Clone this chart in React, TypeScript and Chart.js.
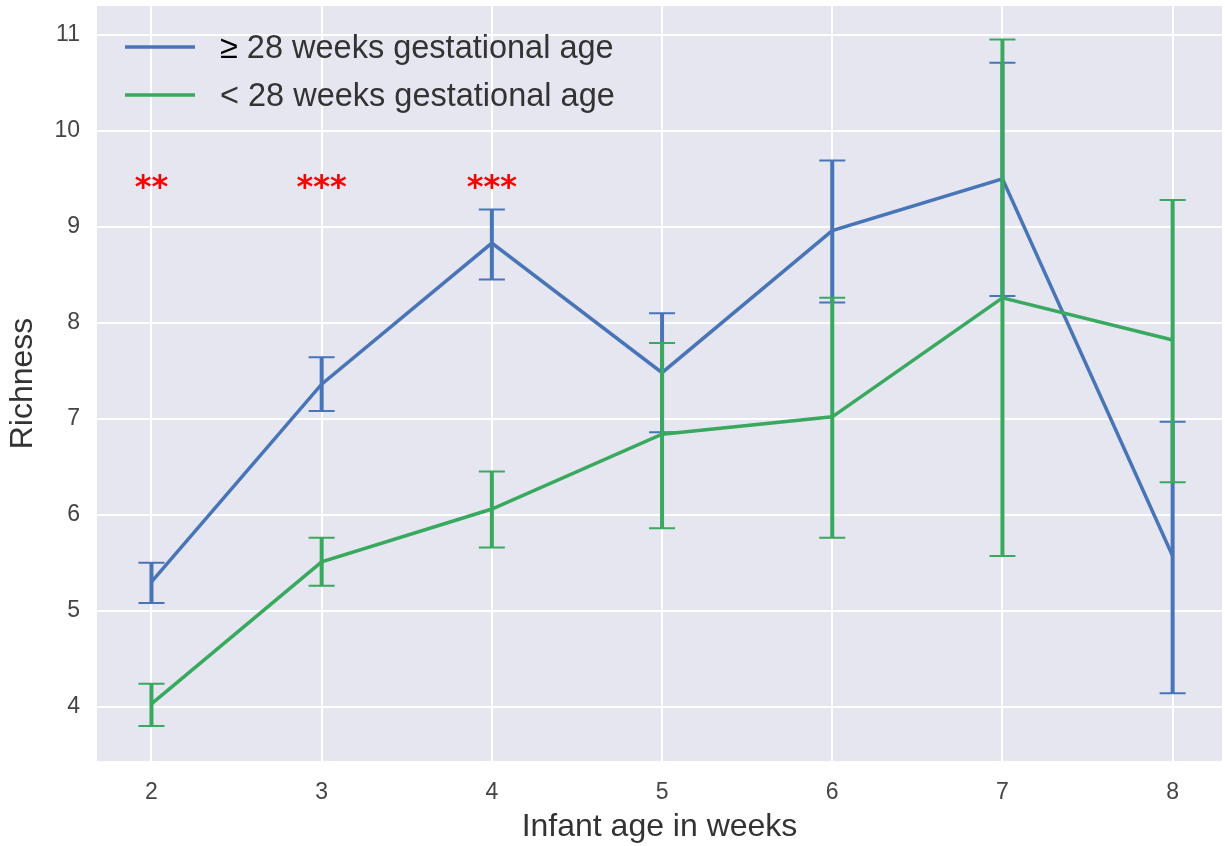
import React, { useEffect, useRef } from 'react';
import { Chart, registerables } from 'chart.js';
Chart.register(...registerables);

const weeks = [2, 3, 4, 5, 6, 7, 8];
const blueMean = [5.3, 7.36, 8.83, 7.48, 8.96, 9.5, 5.57];
const blueLow = [5.08, 7.08, 8.45, 6.86, 8.21, 8.28, 4.14];
const blueHigh = [5.5, 7.64, 9.18, 8.1, 9.69, 10.71, 6.97];
const greenMean = [4.03, 5.51, 6.06, 6.84, 7.02, 8.26, 7.82];
const greenLow = [3.8, 5.26, 5.66, 5.86, 5.76, 5.57, 6.34];
const greenHigh = [4.24, 5.76, 6.45, 7.79, 8.26, 10.95, 9.28];
const seriesLabels = ['≥', '28 weeks gestational age', '< 28 weeks gestational age'];
const starWeeks = [2, 3, 4];
const starTexts = ['**', '***', '***'];
const starLevel = 9.42;
const yTicks = [4, 5, 6, 7, 8, 9, 10, 11];

const BLUE = '#4874B8';
const GREEN = '#38A95E';
const FONT = '"Liberation Sans", Arial';

export default function App() {
  const ref = useRef<HTMLCanvasElement>(null);
  useEffect(() => {
    document.body.style.margin = '0';
    const canvas = ref.current!;
    const bgPlugin = {
      id: 'bg',
      beforeDraw(chart: any) {
        const { ctx, chartArea: a } = chart;
        ctx.save();
        ctx.fillStyle = '#E6E6F0';
        ctx.fillRect(a.left, a.top, a.right - a.left, a.bottom - a.top);
        ctx.restore();
      },
    };
    const errPlugin = {
      id: 'errbars',
      afterDatasetDraw(chart: any, args: any) {
        const ds: any = chart.data.datasets[args.index];
        const xs = chart.scales.x, ys = chart.scales.y;
        const ctx = chart.ctx;
        ctx.save();
        ctx.strokeStyle = ds.borderColor;
        ds.data.forEach((p: any, i: number) => {
          const x = xs.getPixelForValue(p.x);
          const yl = ys.getPixelForValue(ds.errLow[i]);
          const yh = ys.getPixelForValue(ds.errHigh[i]);
          ctx.lineWidth = 4;
          ctx.beginPath();
          ctx.moveTo(x, yl);
          ctx.lineTo(x, yh);
          ctx.stroke();
          ctx.lineWidth = 2;
          ctx.beginPath();
          ctx.moveTo(x - 13, yl);
          ctx.lineTo(x + 13, yl);
          ctx.moveTo(x - 13, yh);
          ctx.lineTo(x + 13, yh);
          ctx.stroke();
        });
        ctx.restore();
      },
    };
    const annoPlugin = {
      id: 'anno',
      afterDraw(chart: any) {
        const ctx = chart.ctx;
        const xs = chart.scales.x, ys = chart.scales.y;
        ctx.save();
        ctx.fillStyle = '#FF0000';
        ctx.font = 'bold 32px "DejaVu Sans"';
        ctx.textAlign = 'center';
        ctx.textBaseline = 'middle';
        starWeeks.forEach((w, i) => {
          ctx.fillText(starTexts[i], xs.getPixelForValue(w), ys.getPixelForValue(starLevel) + 2);
        });
        const rows = [
          { color: BLUE, y: 47, parts: [{ t: seriesLabels[0], c: '#000' }, { t: ' ' + seriesLabels[1], c: '#333' }] },
          { color: GREEN, y: 95, parts: [{ t: seriesLabels[2], c: '#333' }] },
        ];
        ctx.font = '32.5px ' + FONT;
        ctx.textAlign = 'left';
        ctx.textBaseline = 'middle';
        rows.forEach((r) => {
          ctx.strokeStyle = r.color;
          ctx.lineWidth = 3.5;
          ctx.beginPath();
          ctx.moveTo(125, r.y);
          ctx.lineTo(195, r.y);
          ctx.stroke();
          let x = 220;
          r.parts.forEach((p) => {
            ctx.fillStyle = p.c;
            ctx.fillText(p.t, x, r.y + 2);
            x += ctx.measureText(p.t).width;
          });
        });
        ctx.restore();
      },
    };
    const zeroPad = (s: any) => {
      s.paddingTop = 0;
      s.paddingBottom = 0;
      s.paddingLeft = 0;
      s.paddingRight = 0;
    };
    const chart = new Chart(canvas, {
      type: 'scatter',
      data: {
        datasets: [
          {
            label: seriesLabels[0] + ' ' + seriesLabels[1],
            data: weeks.map((w, i) => ({ x: w, y: blueMean[i] })),
            errLow: blueLow,
            errHigh: blueHigh,
            borderColor: BLUE,
            backgroundColor: BLUE,
            showLine: true,
            borderWidth: 3.5,
            pointRadius: 0,
            order: 1,
          } as any,
          {
            label: seriesLabels[2],
            data: weeks.map((w, i) => ({ x: w, y: greenMean[i] })),
            errLow: greenLow,
            errHigh: greenHigh,
            borderColor: GREEN,
            backgroundColor: GREEN,
            showLine: true,
            borderWidth: 3.5,
            pointRadius: 0,
            order: 0,
          } as any,
        ],
      },
      options: {
        animation: false,
        responsive: false,
        devicePixelRatio: 1,
        layout: { autoPadding: false, padding: { top: 6, right: 3, left: 0, bottom: 0 } },
        plugins: { legend: { display: false }, tooltip: { enabled: false } },
        scales: {
          x: {
            type: 'linear',
            min: 1.68,
            max: 8.29,
            afterBuildTicks: (s: any) => { s.ticks = weeks.map((v) => ({ value: v })); },
            afterFit: (s: any) => { s.height = 85; zeroPad(s); },
            grid: { color: '#FFFFFF', lineWidth: 2, drawTicks: false },
            border: { display: false },
            ticks: { color: '#444', font: { size: 23, family: FONT }, padding: 18 },
            title: { display: true, text: 'Infant age in weeks', color: '#333', font: { size: 32, family: FONT }, padding: { top: 1, bottom: 0 } },
          },
          y: {
            type: 'linear',
            min: 3.435,
            max: 11.3,
            afterBuildTicks: (s: any) => { s.ticks = yTicks.map((v) => ({ value: v })); },
            afterFit: (s: any) => { s.width = 97; zeroPad(s); },
            grid: { color: '#FFFFFF', lineWidth: 2, drawTicks: false },
            border: { display: false },
            ticks: { color: '#444', font: { size: 23, family: FONT }, padding: 17 },
            title: { display: true, text: 'Richness', color: '#333', font: { size: 32, family: FONT }, padding: { bottom: 0, top: 4 } },
          },
        },
      },
      plugins: [bgPlugin, errPlugin, annoPlugin],
    } as any);
    return () => chart.destroy();
  }, []);
  return (
    <div style={{ position: 'absolute', left: 0, top: 0, width: 1225, height: 846 }}>
      <canvas ref={ref} width={1225} height={846} />
    </div>
  );
}
